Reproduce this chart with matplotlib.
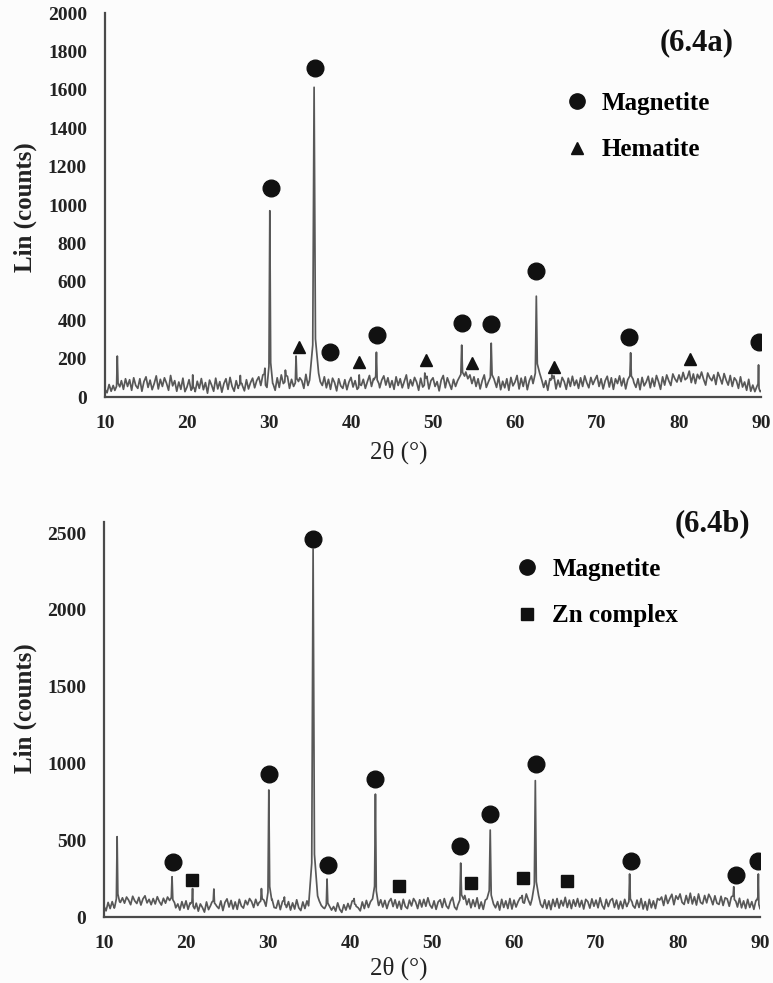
import numpy as np
import matplotlib
matplotlib.use("Agg")
import matplotlib.pyplot as plt
from matplotlib.lines import Line2D

# ---------------- data ----------------
two_theta_start, two_theta_step = 10.0, 0.25

# Panel (6.4a) background trace, 0.25 deg steps from 10 to 90
a_base = [
    40, 22, 65, 30, 60, 28, 70, 45, 85, 40, 95, 55, 90, 35, 100, 60,
    45, 95, 30, 80, 105, 50, 88, 38, 70, 110, 42, 92, 55, 100, 72, 35,
    112, 58, 85, 30, 78, 40, 98, 28, 52, 90, 35, 70, 28, 82, 45, 96,
    38, 75, 20, 88, 62, 30, 98, 42, 80, 25, 70, 95, 40, 102, 55, 30,
    85, 45, 108, 60, 32, 90, 42, 75, 98, 48, 85, 105, 60, 115, 72, 50,
    45, 80, 68, 35, 100, 50, 115, 70, 62, 108, 45, 92, 55, 110, 68, 100,
    85, 45, 118, 60, 95, 52, 105, 120, 135, 80, 60, 105, 48, 92, 40, 98,
    75, 32, 95, 58, 45, 90, 38, 78, 102, 52, 85, 40, 108, 60, 92, 45,
    80, 112, 55, 96, 65, 102, 48, 88, 110, 62, 100, 50, 85, 40, 105, 60,
    95, 48, 82, 115, 45, 90, 58, 102, 78, 35, 98, 52, 62, 108, 42, 85,
    100, 55, 80, 32, 88, 112, 48, 100, 70, 40, 92, 55, 85, 105, 60, 95,
    130, 95, 115, 70, 105, 55, 95, 42, 85, 115, 50, 78, 92, 125, 85, 50,
    105, 38, 82, 48, 95, 35, 102, 58, 78, 112, 42, 98, 55, 105, 38, 85,
    110, 60, 115, 118, 125, 90, 50, 85, 35, 95, 58, 110, 42, 88, 52, 102,
    80, 40, 98, 55, 108, 60, 88, 45, 100, 55, 110, 75, 48, 102, 65, 90,
    112, 55, 95, 42, 85, 108, 52, 100, 40, 95, 70, 110, 58, 98, 42, 90,
    110, 120, 75, 50, 95, 38, 102, 58, 78, 108, 48, 98, 55, 112, 80, 40,
    105, 62, 115, 85, 60, 120, 95, 78, 115, 80, 128, 90, 100, 135, 75, 120,
    70, 118, 95, 130, 92, 62, 125, 100, 85, 115, 65, 128, 100, 68, 122, 88,
    62, 112, 55, 100, 85, 45, 105, 52, 78, 35, 92, 30, 62, 28, 55, 25,
    30,
]
a_peak_pos = [11.5, 20.7, 26.5, 29.5, 30.1, 32.0, 33.3, 35.5, 41.0, 43.1,
              49.0, 53.5, 57.1, 62.6, 64.5, 74.1, 89.7]
a_peak_int = [213, 115, 112, 150, 970, 140, 213, 1613, 115, 233,
              125, 270, 280, 525, 115, 230, 167]
a_peak_hw = [0.3, 0.2, 0.2, 0.25, 0.35, 0.25, 0.3, 0.55, 0.25, 0.3,
             0.2, 0.35, 0.35, 0.4, 0.2, 0.3, 0.2]

a_mag_x = [30.3, 35.6, 37.4, 43.2, 53.5, 57.1, 62.5, 73.9, 89.7]
a_mag_y = [1088, 1715, 236, 322, 386, 380, 658, 313, 287]
a_hem_x = [33.6, 41.0, 49.2, 54.8, 64.7, 81.4]
a_hem_y = [261, 183, 193, 177, 157, 197]

# Panel (6.4b)
b_base = [
    70, 40, 95, 55, 100, 58, 88, 105, 95, 125, 90, 130, 110, 80, 135, 105,
    88, 128, 78, 118, 138, 92, 115, 80, 120, 85, 132, 100, 78, 122, 90, 130,
    108, 70, 115, 60, 85, 45, 100, 58, 105, 50, 92, 65, 45, 90, 38, 85,
    62, 32, 98, 48, 75, 110, 92, 70, 55, 105, 42, 95, 118, 65, 108, 52,
    98, 50, 115, 72, 58, 108, 80, 120, 100, 62, 115, 75, 105, 135, 110, 70,
    68, 100, 115, 62, 58, 108, 48, 98, 128, 62, 100, 45, 92, 52, 112, 60,
    42, 98, 55, 105, 65, 112, 108, 130, 145, 105, 75, 60, 52, 108, 70, 45,
    68, 38, 92, 50, 30, 80, 45, 88, 52, 102, 120, 70, 60, 40, 98, 55,
    108, 62, 100, 118, 85, 125, 75, 112, 65, 108, 55, 100, 120, 68, 112, 58,
    102, 50, 115, 68, 55, 110, 72, 120, 98, 55, 112, 65, 115, 70, 125, 78,
    58, 105, 50, 98, 112, 62, 120, 72, 55, 102, 128, 65, 48, 98, 115, 100,
    140, 80, 118, 60, 112, 68, 125, 55, 98, 50, 110, 120, 130, 138, 85, 60,
    100, 45, 115, 62, 105, 55, 120, 52, 110, 65, 100, 125, 140, 90, 150, 110,
    78, 128, 92, 125, 140, 82, 62, 112, 55, 105, 48, 115, 68, 120, 58, 108,
    72, 128, 62, 110, 55, 112, 70, 120, 65, 108, 52, 115, 100, 58, 118, 70,
    110, 60, 125, 75, 52, 115, 68, 108, 120, 62, 110, 52, 102, 55, 115, 68,
    105, 130, 75, 58, 110, 62, 120, 52, 100, 45, 115, 60, 105, 55, 120, 110,
    130, 75, 142, 88, 120, 148, 80, 138, 115, 150, 95, 82, 140, 90, 155, 85,
    132, 78, 150, 95, 85, 140, 92, 148, 122, 80, 138, 90, 82, 135, 75, 125,
    118, 70, 130, 140, 112, 65, 122, 60, 105, 55, 115, 62, 100, 50, 108, 110,
    55,
]
b_peak_pos = [11.6, 18.3, 20.8, 23.4, 29.2, 30.1, 32.0, 35.5, 37.2, 40.5,
              43.1, 53.5, 57.1, 61.0, 62.6, 74.1, 86.8, 89.8]
b_peak_int = [523, 262, 185, 182, 185, 827, 130, 2396, 247, 120,
              800, 351, 566, 140, 888, 280, 197, 280]
b_peak_hw = [0.3, 0.3, 0.25, 0.25, 0.3, 0.35, 0.2, 0.55, 0.3, 0.2,
             0.35, 0.35, 0.4, 0.25, 0.4, 0.3, 0.25, 0.2]

b_mag_x = [18.4, 30.1, 35.5, 37.3, 43.0, 53.4, 57.1, 62.7, 74.3, 87.1, 89.7]
b_mag_y = [360, 931, 2461, 338, 899, 462, 670, 996, 365, 273, 365]
b_zn_x = [20.7, 46.0, 54.7, 61.1, 66.5]
b_zn_y = [241, 204, 221, 256, 234]

# ---------------- helpers ----------------
def build_trace(base, pos, inten, hw):
    xb = two_theta_start + two_theta_step * np.arange(len(base))
    yb = np.asarray(base, dtype=float)
    keep = np.ones(len(xb), bool)
    xs, ys = [], []
    for c, h, w in zip(pos, inten, hw):
        keep &= ~((xb > c - w) & (xb < c + w))
        bl = np.interp(c - w, xb, yb)
        br = np.interp(c + w, xb, yb)
        xs += [c - w, c - 0.3 * w, c, c + 0.3 * w, c + w]
        ys += [bl, bl + 0.12 * (h - bl), h, br + 0.12 * (h - br), br]
    x = np.concatenate([xb[keep], xs])
    y = np.concatenate([yb[keep], ys])
    o = np.argsort(x, kind="stable")
    return x[o], y[o]

SERIF = ["Liberation Serif", "DejaVu Serif"]
plt.rcParams["font.family"] = SERIF
LINE_C = "#585858"
SPINE_C = "#4a4a4a"
BG = "#fcfcfc"

fig = plt.figure(figsize=(7.73, 9.83), dpi=100, facecolor=BG)
W, H = 773.0, 983.0

def make_axes(l, r, t, b):
    return fig.add_axes([l / W, 1 - b / H, (r - l) / W, (b - t) / H], facecolor=BG)

def style(ax, ylim, yticks):
    ax.set_xlim(10, 90)
    ax.set_ylim(*ylim)
    ax.set_xticks(np.arange(10, 91, 10))
    ax.set_yticks(yticks)
    for s in ("top", "right"):
        ax.spines[s].set_visible(False)
    for s in ("left", "bottom"):
        ax.spines[s].set_color(SPINE_C)
        ax.spines[s].set_linewidth(1.6)
    ax.tick_params(length=0, pad=13, labelsize=14)
    for lab in ax.get_xticklabels() + ax.get_yticklabels():
        lab.set_fontweight("bold")
        lab.set_color("#222222")
    ax.set_ylabel("Lin (counts)", fontsize=18, fontweight="bold", va="center", color="#222222")
    ax.set_xlabel("2θ (°)", fontsize=18, va="center", color="#222222")

LEG_PROP = {"family": SERIF, "weight": "bold", "size": 18}

# ---------------- panel a ----------------
axa = make_axes(105, 761, 13, 397)
xa, ya = build_trace(a_base, a_peak_pos, a_peak_int, a_peak_hw)
axa.plot(xa, ya, color=LINE_C, lw=1.25)
axa.plot(a_mag_x, a_mag_y, "o", color="#111111", ms=12, ls="none")
axa.plot(a_hem_x, a_hem_y, "^", color="#111111", ms=9, ls="none")
style(axa, (0, 2000), np.arange(0, 2001, 200))
axa.yaxis.set_label_coords(-0.122, 0.495)
axa.xaxis.set_label_coords(0.448, -0.143)
axa.text(0.902, 0.922, "(6.4a)", transform=axa.transAxes, ha="center", va="center",
         fontsize=22, fontweight="bold", color="#111111")
ha = [Line2D([], [], marker="o", ls="none", color="#111111", ms=11),
      Line2D([], [], marker="^", ls="none", color="#111111", ms=9)]
axa.legend(ha, ["Magnetite", "Hematite"], loc="upper left", bbox_to_anchor=(0.70, 0.795),
           frameon=False, borderaxespad=0, borderpad=0, handlelength=1.0,
           handletextpad=0.5, labelspacing=0.95, prop=LEG_PROP)

# ---------------- panel b ----------------
axb = make_axes(104, 760, 522, 917)
xb_, yb_ = build_trace(b_base, b_peak_pos, b_peak_int, b_peak_hw)
axb.plot(xb_, yb_, color=LINE_C, lw=1.25)
axb.plot(b_mag_x, b_mag_y, "o", color="#111111", ms=12, ls="none")
axb.plot(b_zn_x, b_zn_y, "s", color="#111111", ms=8.5, ls="none")
style(axb, (0, 2572), np.arange(0, 2501, 500))
axb.yaxis.set_label_coords(-0.120, 0.529)
axb.xaxis.set_label_coords(0.450, -0.130)
axb.text(0.928, 0.995, "(6.4b)", transform=axb.transAxes, ha="center", va="center",
         fontsize=22, fontweight="bold", color="#111111")
hb = [Line2D([], [], marker="o", ls="none", color="#111111", ms=11),
      Line2D([], [], marker="s", ls="none", color="#111111", ms=9)]
axb.legend(hb, ["Magnetite", "Zn complex"], loc="upper left", bbox_to_anchor=(0.626, 0.910),
           frameon=False, borderaxespad=0, borderpad=0, handlelength=1.0,
           handletextpad=0.5, labelspacing=0.95, prop=LEG_PROP)

fig.savefig("out.png", dpi=100, facecolor=BG)
